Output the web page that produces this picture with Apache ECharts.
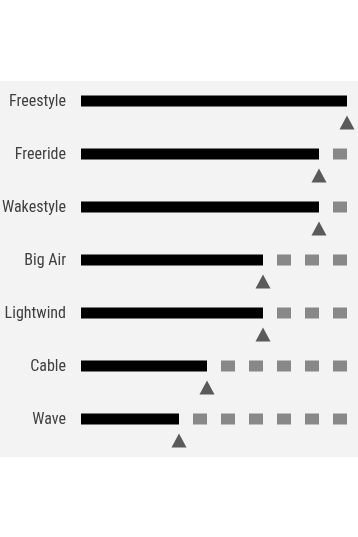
<!DOCTYPE html>
<html>
<head>
<meta charset="utf-8">
<script src="https://cdn.jsdelivr.net/npm/echarts@6/dist/echarts.min.js"></script>
<style>
html,body{margin:0;padding:0;background:#fff;}
#chart{width:358px;height:537px;}
</style>
</head>
<body>
<div id="chart"></div>
<script>
const categories = ["Freestyle", "Freeride", "Wakestyle", "Big Air", "Lightwind", "Cable", "Wave"];
const ratings = [10, 9, 9, 7, 7, 5, 4];
const maxRating = 10;
const scaleStart = 0.5;

const barData = categories.map((c, i) => [ratings[i], c]);
const squareData = [];
categories.forEach((c, i) => {
  for (let k = ratings[i] + 1; k <= maxRating; k++) squareData.push([k, c]);
});
const triData = categories.map((c, i) => [ratings[i], c]);

const chart = echarts.init(document.getElementById('chart'), null, {renderer: 'canvas'});
chart.setOption({
  animation: false,
  backgroundColor: 'transparent',
  graphic: [{
    type: 'rect', z: -100, silent: true,
    shape: {x: 0, y: 81, width: 358, height: 376},
    style: {fill: '#f3f3f3'}
  }],
  grid: {left: 81, top: 75, width: 266, height: 371, containLabel: false, outerBoundsMode: 'none'},
  xAxis: {
    type: 'value', min: scaleStart, max: maxRating,
    show: false
  },
  yAxis: {
    type: 'category', data: categories, inverse: true,
    axisLine: {show: false}, axisTick: {show: false}, splitLine: {show: false},
    axisLabel: {
      margin: 15, color: '#404040', fontSize: 16,
      padding: [3, 0, 0, 0],
      fontFamily: '"Liberation Sans Narrow", "Roboto Condensed", "DejaVu Sans Condensed", sans-serif'
    }
  },
  series: [
    {
      type: 'custom',
      data: barData,
      renderItem: function (params, api) {
        const cat = api.value(1);
        const start = api.coord([scaleStart, cat]);
        const end = api.coord([api.value(0), cat]);
        return {
          type: 'rect',
          shape: {x: start[0], y: end[1] - 6, width: end[0] - start[0], height: 11},
          style: {fill: '#000'}
        };
      },
      encode: {x: 0, y: 1}
    },
    {
      type: 'custom',
      data: squareData,
      renderItem: function (params, api) {
        const cat = api.value(1);
        const a = api.coord([api.value(0) - 0.5, cat]);
        const b = api.coord([api.value(0), cat]);
        return {
          type: 'rect',
          shape: {x: a[0], y: a[1] - 6, width: b[0] - a[0], height: 11},
          style: {fill: '#888'}
        };
      },
      encode: {x: 0, y: 1}
    },
    {
      type: 'scatter',
      data: triData,
      symbol: 'triangle',
      symbolSize: [15, 14],
      symbolOffset: [0, 21],
      itemStyle: {color: '#333'},
      z: 5
    }
  ]
});
</script>
</body>
</html>
